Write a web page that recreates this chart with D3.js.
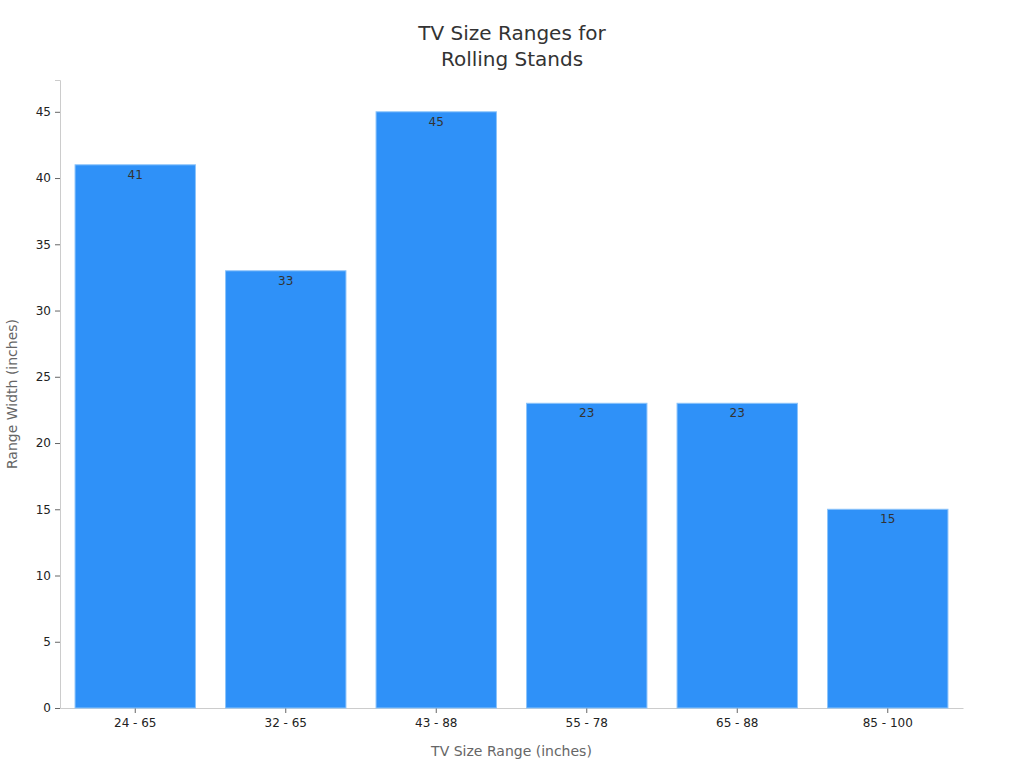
<!DOCTYPE html>
<html>
<head>
<meta charset="utf-8">
<script src="https://cdn.jsdelivr.net/npm/d3@7"></script>
<style>
  body { margin: 0; background: #fff; }
  text { font-family: "DejaVu Sans", sans-serif; }
</style>
</head>
<body>
<div id="chart"></div>
<script>
var categories = ["24 - 65", "32 - 65", "43 - 88", "55 - 78", "65 - 88", "85 - 100"];
var rangeWidths = [41, 33, 45, 23, 23, 15];
var yTicks = [0, 5, 10, 15, 20, 25, 30, 35, 40, 45];

var data = categories.map(function (c, i) { return { size: c, width: rangeWidths[i] }; });

var width = 1024, height = 768;
var margin = { top: 80, right: 61, bottom: 60, left: 60 };
var innerW = width - margin.left - margin.right,
    innerH = height - margin.top - margin.bottom;

var svg = d3.select("#chart").append("svg")
    .attr("width", width)
    .attr("height", height);

// title
svg.append("text")
    .attr("x", width / 2)
    .attr("y", 40)
    .attr("text-anchor", "middle")
    .style("font-size", "20px")
    .style("fill", "#333")
    .selectAll("tspan")
    .data(["TV Size Ranges for", "Rolling Stands"])
    .enter().append("tspan")
    .attr("x", width / 2)
    .attr("dy", function (d, i) { return i ? 26 : 0; })
    .text(function (d) { return d; });

var g = svg.append("g")
    .attr("transform", "translate(" + margin.left + "," + margin.top + ")");

var x = d3.scaleBand()
    .domain(categories)
    .range([0, innerW])
    .paddingInner(0.2)
    .paddingOuter(0.1);

var y = d3.scaleLinear()
    .domain([0, 47.4])
    .range([innerH, 0]);

// y axis
var yAxis = g.append("g")
    .call(d3.axisLeft(y).tickValues(yTicks).tickSize(5).tickPadding(4));
yAxis.select(".domain").attr("stroke", "#ccc");
yAxis.selectAll(".tick line").attr("stroke", "#666");
yAxis.selectAll(".tick text").style("font-size", "12px").style("fill", "#222");

// x axis
var xAxis = g.append("g")
    .attr("transform", "translate(0," + innerH + ")")
    .call(d3.axisBottom(x).tickSize(5).tickPadding(5).tickSizeOuter(0));
xAxis.select(".domain").attr("stroke", "#ccc");
xAxis.selectAll(".tick line").attr("stroke", "#666");
xAxis.selectAll(".tick text").style("font-size", "12px").style("fill", "#222");

// bars
g.selectAll(".bar")
    .data(data)
    .enter().append("rect")
    .attr("class", "bar")
    .attr("x", function (d) { return x(d.size); })
    .attr("width", x.bandwidth())
    .attr("y", function (d) { return y(d.width); })
    .attr("height", function (d) { return innerH - y(d.width); })
    .attr("fill", "#2f91f8")
    .attr("stroke", "#8cc4fa")
    .attr("stroke-width", 1);

// value labels
g.selectAll(".label")
    .data(data)
    .enter().append("text")
    .attr("class", "label")
    .attr("x", function (d) { return x(d.size) + x.bandwidth() / 2; })
    .attr("y", function (d) { return y(d.width) + 14; })
    .attr("text-anchor", "middle")
    .style("font-size", "12px")
    .style("fill", "#333")
    .text(function (d) { return d.width; });

// axis titles
svg.append("text")
    .attr("x", margin.left + innerW / 2)
    .attr("y", 756)
    .attr("text-anchor", "middle")
    .style("font-size", "14px")
    .style("fill", "#666")
    .text("TV Size Range (inches)");

svg.append("text")
    .attr("transform", "translate(17," + (margin.top + innerH / 2) + ") rotate(-90)")
    .attr("text-anchor", "middle")
    .style("font-size", "14px")
    .style("fill", "#666")
    .text("Range Width (inches)");
</script>
</body>
</html>
